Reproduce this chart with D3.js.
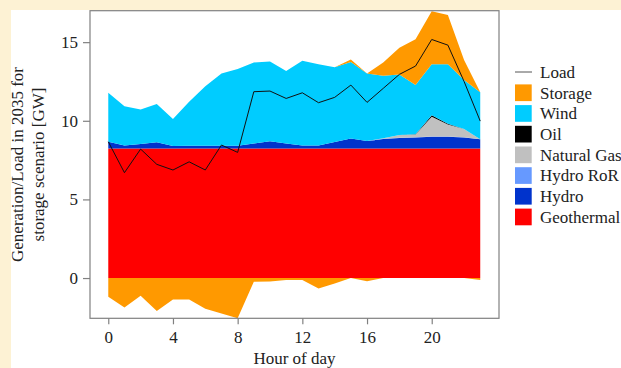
<!DOCTYPE html>
<html>
<head>
<meta charset="utf-8">
<script src="https://cdn.jsdelivr.net/npm/d3@7"></script>
<style>
  body { margin: 0; background: #fdf2d4; }
  svg { display: block; }
  text { font-family: "Liberation Serif", "Times New Roman", serif; }
</style>
</head>
<body>
<div id="chart"></div>
<script>
// hourly values (GW)
const hours = d3.range(0, 24);
const geothermal = [8.23,8.23,8.23,8.23,8.23,8.23,8.23,8.23,8.23,8.23,8.23,8.23,8.23,8.23,8.23,8.23,8.23,8.23,8.23,8.23,8.23,8.23,8.23,8.23];
const hydro = [0.43,0.20,0.29,0.40,0.17,0.19,0.19,0.19,0.19,0.33,0.47,0.33,0.20,0.20,0.42,0.65,0.48,0.61,0.67,0.71,0.75,0.75,0.71,0.59];
const hydroRoR = [0,0,0,0,0,0,0,0,0,0,0,0,0,0,0,0,0,0.02,0.02,0.02,0.02,0.02,0.02,0.01];
const naturalGas = [0,0,0,0,0,0,0,0,0,0,0,0,0,0,0,0,0,0.03,0.17,0.17,1.25,0.77,0.51,0];
const oil = [0,0,0,0,0,0,0,0,0,0,0,0,0,0,0,0,0,0,0,0.02,0.10,0.04,0,0];
const wind = [3.12,2.50,2.20,2.43,1.71,2.79,3.78,4.59,4.88,5.15,5.07,4.60,5.38,5.17,4.76,4.85,4.30,3.97,3.86,3.12,3.25,3.79,3.12,2.98];
const storage = [-1.19,-1.87,-1.12,-2.10,-1.36,-1.36,-1.95,-2.26,-2.56,-0.23,-0.22,-0.13,-0.13,-0.66,-0.34,0.17,-0.21,0.85,1.69,2.92,3.37,3.12,1.27,-0.13];
const load = [8.67,6.70,8.20,7.23,6.87,7.39,6.87,8.46,7.99,11.85,11.89,11.42,11.78,11.15,11.49,12.27,11.17,12.06,12.95,13.48,15.17,14.81,12.50,9.98];

const xTicks = [0, 4, 8, 12, 16, 20];
const yTicks = [0, 5, 10, 15];

const series = [
  { key: "Geothermal", values: geothermal, color: "#ff0000" },
  { key: "Hydro", values: hydro, color: "#0033cc" },
  { key: "Hydro RoR", values: hydroRoR, color: "#6699ff" },
  { key: "Natural Gas", values: naturalGas, color: "#c0c0c0" },
  { key: "Oil", values: oil, color: "#000000" },
  { key: "Wind", values: wind, color: "#00ccff" },
  { key: "Storage", values: storage, color: "#ff9900" }
];
const storageColor = "#ff9900";

const width = 621, height = 368;
const plotLeft = 90, plotRight = 499, plotTop = 10.7, plotBottom = 318.3;

// charging storage goes on top of the stack, discharging below zero
const table = hours.map((h, i) => {
  const row = { hour: h };
  series.forEach(s => { row[s.key] = s.values[i]; });
  row.Storage = Math.max(storage[i], 0);
  row.storageDown = Math.min(storage[i], 0);
  return row;
});

const x = d3.scaleLinear().domain([-1.13, 24.16]).range([plotLeft, plotRight]);
const y = d3.scaleLinear().domain([-2.56, 17.0]).range([plotBottom, plotTop]);

const svg = d3.select("#chart").append("svg")
  .attr("width", width)
  .attr("height", height);

// white panel on the yellow page
svg.append("rect")
  .attr("x", 11).attr("y", 10)
  .attr("width", width - 11).attr("height", height - 10)
  .attr("fill", "#fff");

svg.append("clipPath").attr("id", "plot")
  .append("rect")
  .attr("x", plotLeft).attr("y", plotTop)
  .attr("width", plotRight - plotLeft).attr("height", plotBottom - plotTop);

const stack = d3.stack()
  .keys(series.map(s => s.key))
  .order(d3.stackOrderNone)
  .offset(d3.stackOffsetNone);

const layers = stack(table);

const area = d3.area()
  .x(d => x(d.data.hour))
  .y0(d => y(d[0]))
  .y1(d => y(d[1]));

const g = svg.append("g").attr("clip-path", "url(#plot)");

g.selectAll("path.layer")
  .data(layers)
  .enter().append("path")
  .attr("class", "layer")
  .attr("d", area)
  .attr("fill", (d, i) => series[i].color);

g.append("path")
  .datum(table)
  .attr("d", d3.area()
    .x(d => x(d.hour))
    .y0(y(0))
    .y1(d => y(d.storageDown)))
  .attr("fill", storageColor);

// load line
const line = d3.line()
  .x((d, i) => x(hours[i]))
  .y(d => y(d));

g.append("path")
  .datum(load)
  .attr("d", line)
  .attr("fill", "none")
  .attr("stroke", "#111")
  .attr("stroke-width", 1);

// box
svg.append("rect")
  .attr("x", plotLeft).attr("y", plotTop)
  .attr("width", plotRight - plotLeft).attr("height", plotBottom - plotTop)
  .attr("fill", "none")
  .attr("stroke", "#808080")
  .attr("stroke-width", 1.2);

// axes
const yAxis = svg.append("g")
  .attr("transform", `translate(${plotLeft},0)`)
  .call(d3.axisLeft(y).tickValues(yTicks).tickSize(7).tickPadding(5));

const xAxis = svg.append("g")
  .attr("transform", `translate(0,${plotBottom})`)
  .call(d3.axisBottom(x).tickValues(xTicks).tickSize(6).tickPadding(7));

[xAxis, yAxis].forEach(a => {
  a.select(".domain").remove();
  a.selectAll(".tick line").attr("stroke", "#808080").attr("stroke-width", 1.2);
  a.selectAll(".tick text")
    .attr("font-size", 17)
    .attr("fill", "#222")
    .style("font-family", "'Liberation Serif', 'Times New Roman', serif");
});

// axis titles
svg.append("text")
  .attr("x", (plotLeft + plotRight) / 2)
  .attr("y", 364)
  .attr("text-anchor", "middle")
  .attr("font-size", 17)
  .attr("fill", "#222")
  .text("Hour of day");

const yTitle = ["Generation/Load in 2035 for", "storage scenario [GW]"];
yTitle.forEach((t, i) => {
  svg.append("text")
    .attr("transform", `translate(${23 + i * 21},${(plotTop + plotBottom) / 2}) rotate(-90)`)
    .attr("text-anchor", "middle")
    .attr("font-size", 17)
    .attr("fill", "#222")
    .text(t);
});

// legend
const legendItems = [{ key: "Load", line: true }].concat(series.slice().reverse());
const legend = svg.append("g");
legendItems.forEach((d, i) => {
  const cy = 72 + i * 20.7;
  if (d.line) {
    legend.append("line")
      .attr("x1", 515).attr("x2", 532)
      .attr("y1", cy).attr("y2", cy)
      .attr("stroke", "#555").attr("stroke-width", 1);
  } else {
    legend.append("rect")
      .attr("x", 515).attr("y", cy - 8.3)
      .attr("width", 16.7).attr("height", 16.7)
      .attr("fill", d.color);
  }
  legend.append("text")
    .attr("x", 540).attr("y", cy)
    .attr("dy", "0.35em")
    .attr("font-size", 17)
    .attr("fill", "#222")
    .text(d.key);
});
</script>
</body>
</html>
